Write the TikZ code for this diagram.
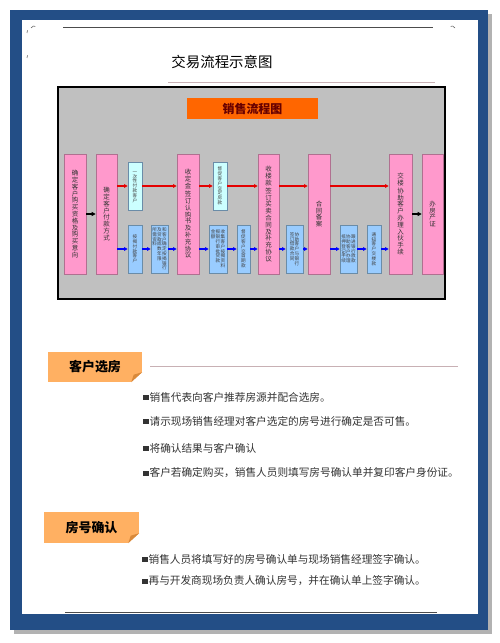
\documentclass[tikz,border=0pt]{standalone}
\usepackage{fontspec}
\usepackage{tikz}
\usetikzlibrary{arrows.meta}
\newfontfamily\cjk{Noto Sans CJK SC}
\definecolor{framebl}{HTML}{234E86}
\definecolor{chartgr}{HTML}{C0C0C0}
\definecolor{pinkbx}{HTML}{FF99CC}
\definecolor{pinkln}{HTML}{B07090}
\definecolor{cyanbx}{HTML}{CCFFFF}
\definecolor{bluebx}{HTML}{99CCFF}
\definecolor{boxln}{HTML}{6A8CA8}
\definecolor{hdorange}{HTML}{FF6600}
\definecolor{hdtext}{HTML}{660000}
\definecolor{taborange}{HTML}{FFB062}
\definecolor{tabfold}{HTML}{D9893A}
\definecolor{rulepk}{HTML}{C8B0B4}
% one column of upright characters, columns run right to left
\newcommand{\vgap}{}
\def\vchar#1{\ifx\vgap#1\kern1.5bp\else\hbox to 1.05em{\hss\vrule height 0.9em depth 0.15em width 0pt#1\hss}\fi}
\def\vstk#1{\ifx\relax#1\else\vchar{#1}\expandafter\vstk\fi}
\newcommand{\vcol}[1]{\vtop{\offinterlineskip\vstk#1\relax}}
\newcommand{\vtwo}[2]{\vcol{#2}\vcol{#1}}
\newcommand{\vthree}[3]{\vcol{#3}\vcol{#2}\vcol{#1}}
\newcommand{\sqbul}{\raisebox{0.08em}{\rule{0.5em}{0.5em}}\hspace{0.1em}}

\begin{document}
\begin{tikzpicture}[x=1bp,y=-1bp]
\tikzset{stage/.style={draw=pinkln,fill=pinkbx,line width=0.6bp,minimum width=22bp,minimum height=120bp,
            inner sep=0pt,font=\cjk\fontsize{6.5}{7.1}\selectfont,text=black!80},
        upper/.style={draw=boxln,fill=cyanbx,line width=0.6bp,minimum width=14bp,minimum height=48bp,
            inner sep=0pt,font=\cjk\fontsize{4.6}{5}\selectfont,text=black!75},
        lower/.style={upper,fill=bluebx},
        redarr/.style={draw=red!90!black,line width=1.3bp,-{Triangle[length=3.5bp,width=3.5bp]}},
        bluearr/.style={draw=blue,line width=1.1bp,-{Triangle[length=3.5bp,width=3.5bp]}},
        blackarr/.style={draw=black,line width=1.4bp,-{Triangle[length=4bp,width=4bp]}},
        tab/.style={fill=taborange,minimum width=94bp,minimum height=30bp,inner sep=0pt,
            font=\cjk\bfseries\fontsize{13}{15}\selectfont},
        bullet/.style={anchor=west,inner sep=0pt,font=\cjk\fontsize{10.7}{12}\selectfont,text=black!80}}

\useasboundingbox (0,0) rectangle (500,643);

% page frame
\fill[black!30] (14,14) rectangle (492,634);
\fill[framebl] (10,10) rectangle (488,630);
\fill[white] (22,20) rectangle (478,614);
\draw[black!70,line width=0.7bp] (63,27) -- (433,27);
\draw[black!70,line width=0.7bp] (65,612) -- (437,612);
\draw[black!60,line width=0.6bp] (31,28) arc (200:300:3);
\draw[black!60,line width=0.6bp] (455,28) arc (-20:-120:3);
\draw[black!60,line width=0.6bp] (27,33) arc (180:200:8);
\draw[black!60,line width=0.6bp] (27,58) arc (180:200:8);

% title
\node[font=\cjk\fontsize{14.5}{16}\selectfont] (title) at (222,62) {交易流程示意图};
\draw[rulepk,line width=0.8bp] (168,82) -- (435,82);

% flow chart
\node[draw=black,line width=1.5bp,fill=chartgr,minimum width=387bp,minimum height=212bp,inner sep=0pt] (chart) at (251.5,193) {};
\node[fill=hdorange,minimum width=131bp,minimum height=21bp,inner sep=0pt,
      font=\cjk\bfseries\fontsize{12}{14}\selectfont,text=hdtext] (head) at (252.5,108.5) {销售流程图};

\node[stage] (P1) at (75,214) {\vcol{确定客户购买资格及购买意向}};
\node[stage,minimum width=21bp] (P2) at (106.5,214) {\vcol{确定客户付款方式}};
\node[stage] (P3) at (188,214) {\vcol{收定金\vgap 签订认购书及补充协议}};
\node[stage,minimum width=21bp] (P4) at (268.5,214) {\vcol{收楼款\vgap 签订买卖合同及补充协议}};
\node[stage] (P5) at (319,214) {\vcol{合同备案}};
\node[stage,minimum width=23bp] (P6) at (400.5,214) {\vcol{交楼\vgap 协助客户办理入伙手续}};
\node[stage,minimum width=21bp] (P7) at (432.5,214) {\vcol{办房产证}};

\node[upper] (U1) at (135,186) {\vcol{一次性付款客户}};
\node[upper] (U2) at (220,186) {\vcol{督促客户交足房款}};

\node[lower] (L1) at (135,249) {\vcol{按揭付款客户}};
\node[lower,minimum width=17bp] (L2) at (159.5,249) {\vthree{和客户确定按揭银行}{及贷款成数年限}{所需资料}};
\node[lower,minimum width=18bp] (L3) at (218,249) {\vthree{收集客户按揭资料}{报银行审批贷款}{金额}};
\node[lower,minimum width=13bp] (L4) at (243.5,249) {\vcol{督促客户交首期款}};
\node[lower,minimum width=17bp] (L5) at (294.5,249) {\vtwo{协助客户与银行}{签订借款合同}};
\node[lower,minimum width=17bp] (L6) at (348.5,249) {\vthree{跟进银行放款}{协助客户办理}{抵押登记手续}};
\node[lower] (L7) at (374,249) {\vcol{通知客户交楼款}};

\draw[blackarr] (P1) -- (P2);
\draw[blackarr] (P6) -- (P7);
\foreach \a/\b in {P2/U1,U1/P3,P3/U2,U2/P4,P4/P5,P5/P6}
  \draw[redarr] (\a.east |- U1) -- (\b.west |- U1);
\foreach \a/\b in {P2/L1,L1/L2,L2/P3,P3/L3,L3/L4,L4/P4,P4/L5,L5/P5,P5/L6,L6/L7,L7/P6}
  \draw[bluearr] (\a.east |- L1) -- (\b.west |- L1);

% section one
\node[tab] (T1) at (95,367) {客户选房};
\fill[white] (T1.south east) -- ++(-11,0) -- ++(11,-10) -- cycle;
\fill[tabfold] (T1.south east) ++(-11,0) -- ++(11,-10) -- ++(-8.5,2.5) -- cycle;
\draw[rulepk,line width=0.8bp] (150,366) -- (458,366);
\node[bullet] (b1) at (143,397) {\sqbul 销售代表向客户推荐房源并配合选房。};
\node[bullet] (b2) at (143,421) {\sqbul 请示现场销售经理对客户选定的房号进行确定是否可售。};
\node[bullet] (b3) at (143,448) {\sqbul 将确认结果与客户确认};
\node[bullet] (b4) at (143,473) {\sqbul 客户若确定购买，销售人员则填写房号确认单并复印客户身份证。};

% section two
\node[tab,minimum width=95bp,minimum height=31bp] (T2) at (91.5,527.5) {房号确认};
\fill[white] (T2.south east) -- ++(-11,0) -- ++(11,-10) -- cycle;
\fill[tabfold] (T2.south east) ++(-11,0) -- ++(11,-10) -- ++(-8.5,2.5) -- cycle;
\node[bullet] (b5) at (142,559) {\sqbul 销售人员将填写好的房号确认单与现场销售经理签字确认。};
\node[bullet] (b6) at (142,581) {\sqbul 再与开发商现场负责人确认房号，并在确认单上签字确认。};

\end{tikzpicture}
\end{document}
